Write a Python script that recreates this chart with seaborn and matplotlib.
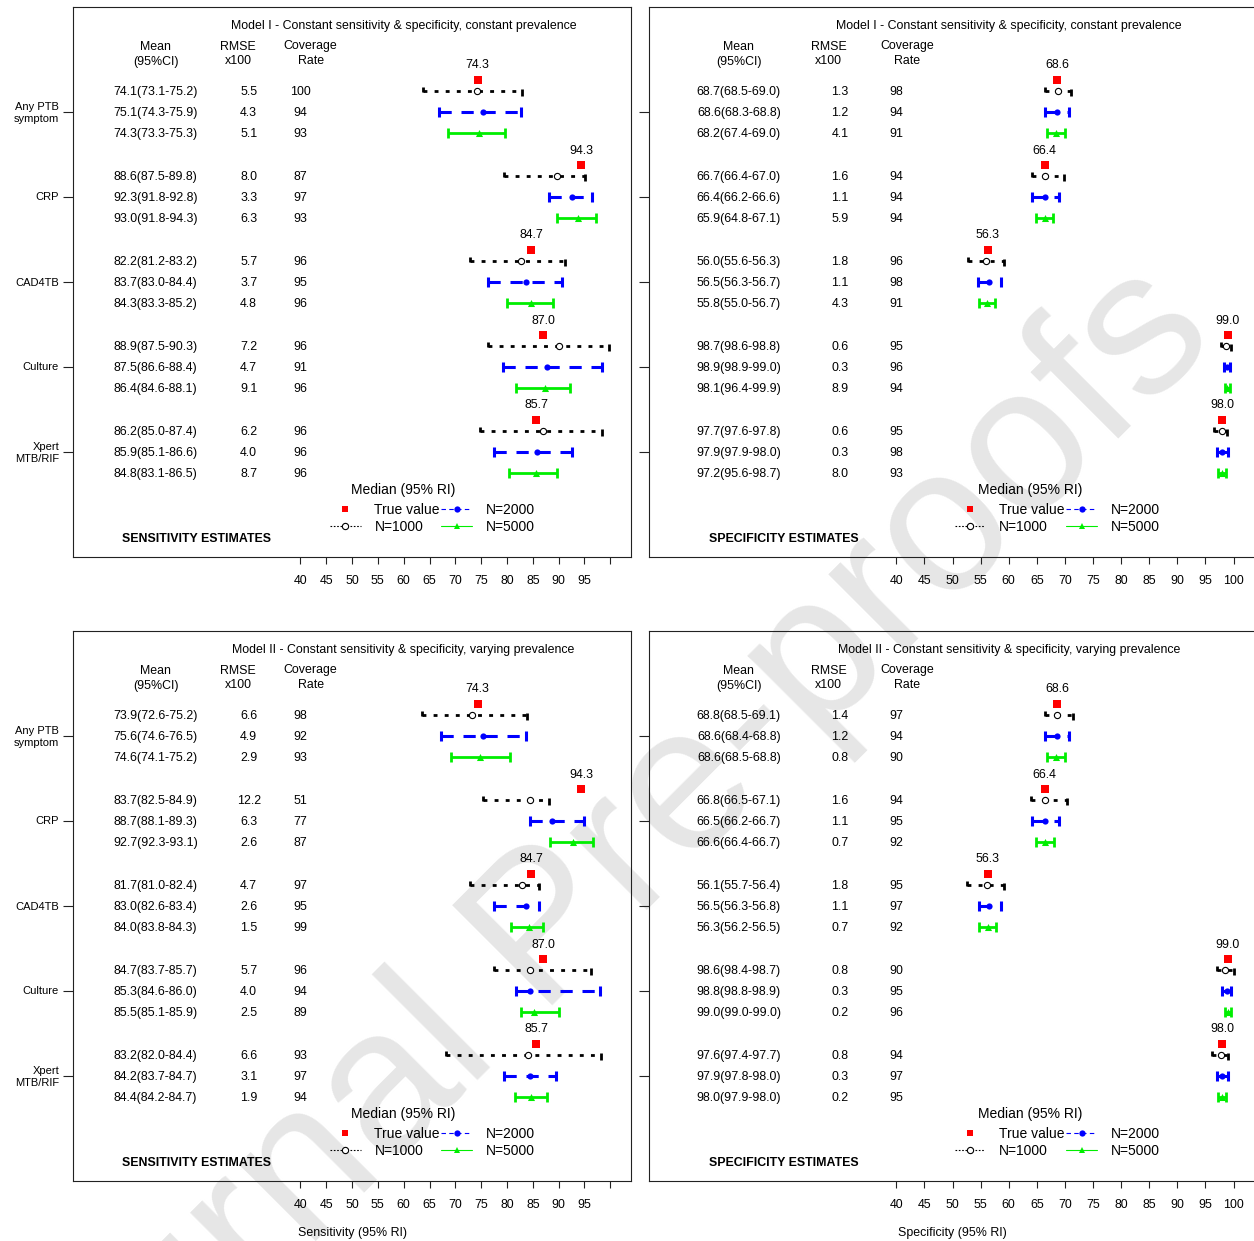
import numpy as np
import pandas as pd
import matplotlib
matplotlib.use('Agg')
import matplotlib.pyplot as plt
import seaborn as sns
from matplotlib.lines import Line2D

# ---- data ----
tests = ['Any PTB\nsymptom', 'CRP', 'CAD4TB', 'Culture', 'Xpert\nMTB/RIF']
sizes = ['N=1000', 'N=2000', 'N=5000']

true_sens = [74.3, 94.3, 84.7, 87.0, 85.7]
true_spec = [68.6, 66.4, 56.3, 99.0, 98.0]

# Model I - sensitivity
s1_mean = ['74.1(73.1-75.2)', '75.1(74.3-75.9)', '74.3(73.3-75.3)',
           '88.6(87.5-89.8)', '92.3(91.8-92.8)', '93.0(91.8-94.3)',
           '82.2(81.2-83.2)', '83.7(83.0-84.4)', '84.3(83.3-85.2)',
           '88.9(87.5-90.3)', '87.5(86.6-88.4)', '86.4(84.6-88.1)',
           '86.2(85.0-87.4)', '85.9(85.1-86.6)', '84.8(83.1-86.5)']
s1_rmse = [5.5, 4.3, 5.1, 8.0, 3.3, 6.3, 5.7, 3.7, 4.8, 7.2, 4.7, 9.1, 6.2, 4.0, 8.7]
s1_cov = [100, 94, 93, 87, 97, 93, 96, 95, 96, 96, 91, 96, 96, 96, 96]
s1_med = [74.2, 75.3, 74.6, 89.6, 92.6, 93.8, 82.7, 83.7, 84.7, 90.0, 87.7, 87.4, 86.9, 85.8, 85.7]
s1_lo = [63.8, 66.8, 68.5, 79.5, 88.2, 89.7, 72.9, 76.3, 80.0, 76.3, 79.2, 81.8, 74.7, 77.4, 80.3]
s1_hi = [83.0, 82.8, 79.6, 95.1, 96.5, 97.2, 91.3, 90.7, 88.9, 99.8, 98.4, 92.2, 98.3, 92.5, 89.7]

# Model I - specificity
p1_mean = ['68.7(68.5-69.0)', '68.6(68.3-68.8)', '68.2(67.4-69.0)',
           '66.7(66.4-67.0)', '66.4(66.2-66.6)', '65.9(64.8-67.1)',
           '56.0(55.6-56.3)', '56.5(56.3-56.7)', '55.8(55.0-56.7)',
           '98.7(98.6-98.8)', '98.9(98.9-99.0)', '98.1(96.4-99.9)',
           '97.7(97.6-97.8)', '97.9(97.9-98.0)', '97.2(95.6-98.7)']
p1_rmse = [1.3, 1.2, 4.1, 1.6, 1.1, 5.9, 1.8, 1.1, 4.3, 0.6, 0.3, 8.9, 0.6, 0.3, 8.0]
p1_cov = [98, 94, 91, 94, 94, 94, 96, 98, 91, 95, 96, 94, 95, 98, 93]
p1_med = [68.7, 68.6, 68.4, 66.5, 66.5, 66.4, 56.0, 56.5, 56.2, 98.6, 98.8, 98.9, 97.9, 97.9, 97.9]
p1_lo = [66.4, 66.4, 66.8, 64.2, 64.2, 64.9, 52.8, 54.6, 54.7, 97.8, 98.3, 98.5, 96.5, 97.1, 97.3]
p1_hi = [71.1, 70.7, 70.0, 69.9, 68.9, 67.8, 59.1, 58.6, 57.6, 99.6, 99.3, 99.3, 98.9, 99.0, 98.6]

# Model II - sensitivity
s2_mean = ['73.9(72.6-75.2)', '75.6(74.6-76.5)', '74.6(74.1-75.2)',
           '83.7(82.5-84.9)', '88.7(88.1-89.3)', '92.7(92.3-93.1)',
           '81.7(81.0-82.4)', '83.0(82.6-83.4)', '84.0(83.8-84.3)',
           '84.7(83.7-85.7)', '85.3(84.6-86.0)', '85.5(85.1-85.9)',
           '83.2(82.0-84.4)', '84.2(83.7-84.7)', '84.4(84.2-84.7)']
s2_rmse = [6.6, 4.9, 2.9, 12.2, 6.3, 2.6, 4.7, 2.6, 1.5, 5.7, 4.0, 2.5, 6.6, 3.1, 1.9]
s2_cov = [98, 92, 93, 51, 77, 87, 97, 95, 99, 96, 94, 89, 93, 97, 94]
s2_med = [73.3, 75.4, 74.7, 84.4, 88.7, 92.8, 83.0, 83.6, 84.3, 84.4, 84.5, 85.2, 84.0, 84.5, 84.6]
s2_lo = [63.6, 67.2, 69.2, 75.4, 84.5, 88.4, 72.9, 77.4, 80.7, 77.4, 81.8, 82.7, 68.1, 79.5, 81.6]
s2_hi = [83.8, 83.6, 80.5, 88.2, 94.9, 96.7, 86.2, 86.2, 87.0, 96.3, 98.0, 90.0, 98.2, 89.4, 87.8]

# Model II - specificity
p2_mean = ['68.8(68.5-69.1)', '68.6(68.4-68.8)', '68.6(68.5-68.8)',
           '66.8(66.5-67.1)', '66.5(66.2-66.7)', '66.6(66.4-66.7)',
           '56.1(55.7-56.4)', '56.5(56.3-56.8)', '56.3(56.2-56.5)',
           '98.6(98.4-98.7)', '98.8(98.8-98.9)', '99.0(99.0-99.0)',
           '97.6(97.4-97.7)', '97.9(97.8-98.0)', '98.0(97.9-98.0)']
p2_rmse = [1.4, 1.2, 0.8, 1.6, 1.1, 0.7, 1.8, 1.1, 0.7, 0.8, 0.3, 0.2, 0.8, 0.3, 0.2]
p2_cov = [97, 94, 90, 94, 95, 92, 95, 97, 92, 90, 95, 96, 94, 97, 95]
p2_med = [68.6, 68.6, 68.4, 66.5, 66.5, 66.4, 56.2, 56.5, 56.3, 98.4, 98.8, 99.0, 97.8, 97.9, 97.9]
p2_lo = [66.4, 66.4, 66.8, 64.0, 64.2, 64.9, 52.6, 54.7, 54.7, 97.1, 98.0, 98.5, 96.2, 97.1, 97.3]
p2_hi = [71.4, 70.8, 70.0, 70.3, 69.0, 68.0, 59.1, 58.7, 57.7, 100.0, 99.5, 99.5, 99.0, 99.0, 98.6]

title1 = 'Model I - Constant sensitivity & specificity, constant prevalence'
title2 = 'Model II - Constant sensitivity & specificity, varying prevalence'

# ---- style ----
sns.set_theme(style='white')
plt.rcParams['font.family'] = ['Liberation Sans', 'DejaVu Sans']
plt.rcParams['text.color'] = 'black'

GREEN = '#00ee00'
line_style = {
    'N=1000': dict(color='black', lw=2.0, dashes=(1.4, 2.6)),
    'N=2000': dict(color='#0000ff', lw=2.2, dashes=(4, 3.2)),
    'N=5000': dict(color=GREEN, lw=2.0, dashes=None),
}
marker_style = {
    'N=1000': dict(marker='o', s=20, facecolor='white', edgecolor='black', linewidth=0.8),
    'N=2000': dict(marker='o', s=20, color='#0000ff', linewidth=0),
    'N=5000': dict(marker='^', s=26, color=GREEN, linewidth=0),
}

W, H = 1254, 1241
fig = plt.figure(figsize=(W / 100, H / 100), dpi=100)


def add_ax(x0, x1, y0, y1):
    return fig.add_axes([x0 / W, 1 - y1 / H, (x1 - x0) / W, (y1 - y0) / H])


def draw_panel(ax, title, est_label, truth, mean_ci, rmse, cov, med, lo, hi,
               show_labels, label_100, leg_x, leg_title_x, xlabel=None):
    df = pd.DataFrame({'test': np.repeat(np.arange(5), 3),
                       'k': np.tile(np.arange(3), 5),
                       'size': sizes * 5,
                       'med': med, 'lo': lo, 'hi': hi,
                       'mean': mean_ci, 'rmse': rmse, 'cov': cov})
    df['y'] = 83.5 + 85 * df['test'] + 21 * df['k']

    ax.set_facecolor('none')
    ax.set_xlim(-4, 104)
    ax.set_ylim(550, 0)
    for sp in ax.spines.values():
        sp.set_visible(True)
        sp.set_color('#222222')
        sp.set_linewidth(0.8)

    # intervals
    for _, r in df.iterrows():
        st = line_style[r['size']]
        ln, = ax.plot([r.lo, r.hi], [r.y, r.y], color=st['color'], lw=st['lw'],
                      solid_capstyle='butt', zorder=2)
        if st['dashes'] is not None:
            ln.set_dashes(st['dashes'])
        if r['size'] == 'N=1000':
            ax.vlines(r.lo, r.y - 4, r.y + 1.5, color='black', lw=2.0, zorder=2)
            ax.vlines(r.hi, r.y - 1.5, r.y + 5, color='black', lw=2.0, zorder=2)
        else:
            ax.vlines([r.lo, r.hi], r.y - 5, r.y + 5, color=st['color'], lw=st['lw'], zorder=2)

    # medians
    for n in sizes:
        sub = df[df['size'] == n]
        sns.scatterplot(data=sub, x='med', y='y', ax=ax, legend=False, zorder=3,
                        **marker_style[n])

    # true values
    tv = pd.DataFrame({'truth': truth, 'y': 72.5 + 85 * np.arange(5)})
    sns.scatterplot(data=tv, x='truth', y='y', ax=ax, marker='s', s=28,
                    color='#ff0000', linewidth=0, legend=False, zorder=3)
    for t, yy in zip(truth, 58.5 + 85 * np.arange(5)):
        ax.text(t, yy, f'{t:.1f}', ha='center', va='center', fontsize=8.9)

    # table
    fs = 8.9
    dy = 1.5
    ax.text(60, 18 + dy, title, ha='center', va='center', fontsize=fs)
    ax.text(12, 38 + dy, 'Mean', ha='center', va='center', fontsize=fs)
    ax.text(12, 53 + dy, '(95%CI)', ha='center', va='center', fontsize=fs)
    ax.text(28, 38 + dy, 'RMSE', ha='center', va='center', fontsize=fs)
    ax.text(28, 53 + dy, 'x100', ha='center', va='center', fontsize=fs)
    ax.text(42, 38 + dy, 'Coverage', ha='center', va='center', fontsize=fs)
    ax.text(42, 53 + dy, 'Rate', ha='center', va='center', fontsize=fs)
    for _, r in df.iterrows():
        ax.text(12, r.y + dy, r['mean'], ha='center', va='center', fontsize=fs)
        ax.text(30, r.y + dy, f'{r.rmse:.1f}', ha='center', va='center', fontsize=fs)
        ax.text(40, r.y + dy, f'{r["cov"]}', ha='center', va='center', fontsize=fs)
    ax.text(20, 530 + dy, est_label, ha='center', va='center', fontsize=fs, fontweight='bold')

    # legend
    handles = [
        Line2D([], [], ls='none', marker='s', color='#ff0000', ms=5, mew=0),
        Line2D([], [], color='black', lw=0.8, ls=(0, (1.5, 1.5)), marker='o', ms=4.5,
               mfc='white', mec='black', mew=0.8),
        Line2D([], [], color='#0000ff', lw=0.8, ls=(0, (4, 3)), marker='o', ms=4.5, mew=0),
        Line2D([], [], color=GREEN, lw=0.8, marker='^', ms=5, mew=0),
    ]
    ax.legend(handles, ['True value', 'N=1000', 'N=2000', 'N=5000'], ncol=2,
              loc='upper left', bbox_to_anchor=(leg_x, 0.098), frameon=False, fontsize=10,
              handlelength=2.2, handletextpad=1.0, columnspacing=0.1,
              labelspacing=0.2, borderpad=0, borderaxespad=0)
    ax.text(leg_title_x, 483, 'Median (95% RI)', ha='center', va='center', fontsize=10)

    # axes ticks
    ticks = list(range(40, 101, 5))
    ax.set_xticks(ticks)
    ax.set_xticklabels([str(t) for t in ticks[:-1]] + (['100'] if label_100 else ['']))
    ax.tick_params(axis='x', bottom=True, direction='out', length=5, width=0.8,
                   pad=8, labelsize=8.9, colors='#222222', labelcolor='black')
    ax.set_yticks(list(104.5 + 85 * np.arange(5)))
    ax.set_yticklabels(tests if show_labels else [''] * 5)
    ax.tick_params(axis='y', left=True, direction='out', length=7, width=0.8,
                   pad=3, labelsize=8, colors='#222222', labelcolor='black')
    ax.set_xlabel('')
    ax.set_ylabel('')
    if xlabel:
        ax.text(50, 602, xlabel, ha='center', va='center', fontsize=8.9, clip_on=False)


ax_tl = add_ax(73, 631, 7, 557)
ax_tr = add_ax(649, 1256, 7, 557)
ax_bl = add_ax(73, 631, 631, 1181)
ax_br = add_ax(649, 1256, 631, 1181)

draw_panel(ax_tl, title1, 'SENSITIVITY ESTIMATES', true_sens, s1_mean, s1_rmse, s1_cov,
           s1_med, s1_lo, s1_hi, True, False, 0.4606, 60.0)
draw_panel(ax_tr, title1, 'SPECIFICITY ESTIMATES', true_spec, p1_mean, p1_rmse, p1_cov,
           p1_med, p1_lo, p1_hi, False, True, 0.504, 63.8)
draw_panel(ax_bl, title2, 'SENSITIVITY ESTIMATES', true_sens, s2_mean, s2_rmse, s2_cov,
           s2_med, s2_lo, s2_hi, True, False, 0.4606, 60.0, 'Sensitivity (95% RI)')
draw_panel(ax_br, title2, 'SPECIFICITY ESTIMATES', true_spec, p2_mean, p2_rmse, p2_cov,
           p2_med, p2_lo, p2_hi, False, True, 0.504, 63.8, 'Specificity (95% RI)')

# watermark
fig.text(0.466, 0.276, 'Journal Pre-proofs', rotation=45, rotation_mode='anchor',
         fontsize=148, color='#e6e6e6', ha='center', va='center', zorder=-1)

fig.savefig('out.png', dpi=100, facecolor='white')
